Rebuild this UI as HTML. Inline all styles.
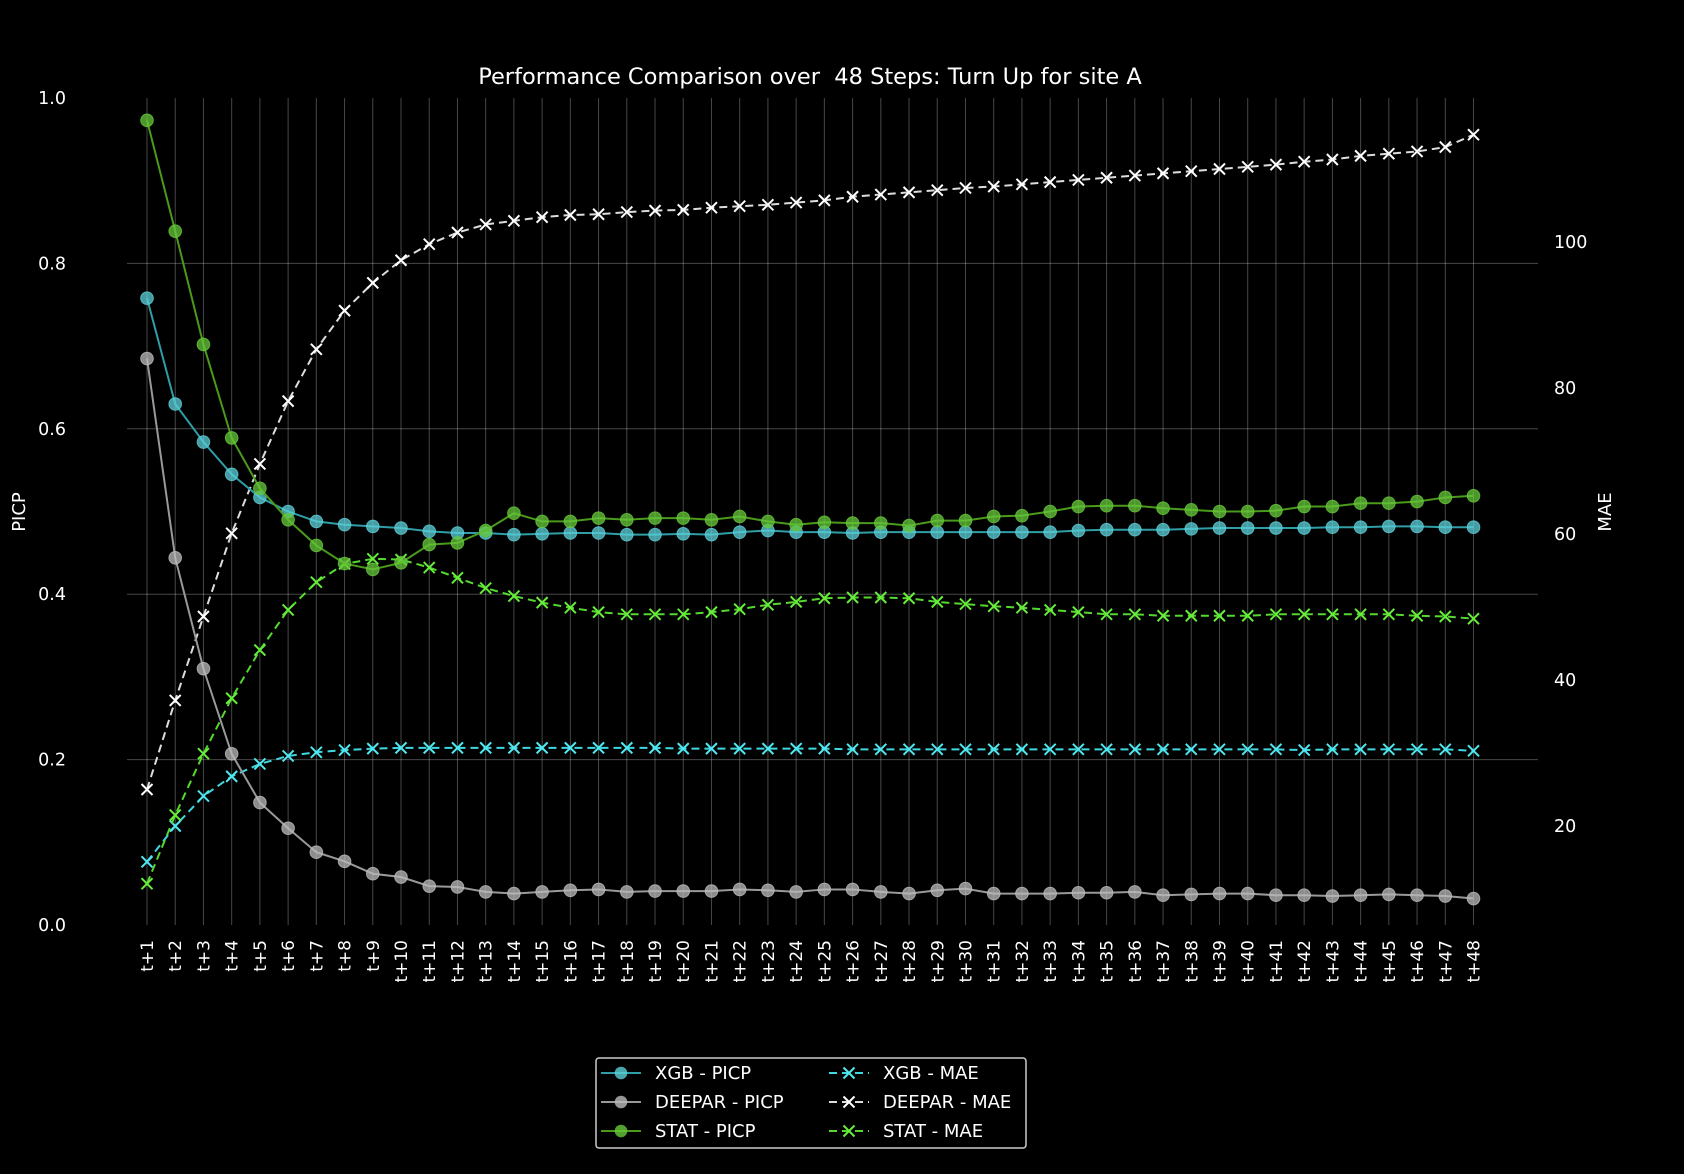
<!DOCTYPE html>
<html><head><meta charset="utf-8"><style>
html,body{margin:0;padding:0;background:#000;}
svg{display:block;font-family:"DejaVu Sans","Liberation Sans",sans-serif;}
</style></head><body>
<svg id="chart" width="1684" height="1174" viewBox="0 0 1684 1174" xmlns="http://www.w3.org/2000/svg">
<rect width="1684" height="1174" fill="#000"/>
<text x="810" y="84" fill="#fff" font-size="22.5" text-anchor="middle" xml:space="preserve" style="white-space:pre">Performance Comparison over  48 Steps: Turn Up for site A</text>
<g id="grid"></g>
<g id="axes"></g>
<g id="series"></g>
<text transform="translate(25,512) rotate(-90)" fill="#fff" font-size="18" text-anchor="middle">PICP</text>
<text transform="translate(1611,512) rotate(-90)" fill="#fff" font-size="18" text-anchor="middle">MAE</text>
<g id="legend"></g>
</svg>
<script>
const steps = Array.from({length:48},(_,i)=>'t+'+(i+1));
const picpTicks = [0.0,0.2,0.4,0.6,0.8,1.0];
const maeTicks = [20,40,60,80,100];
const xgbPicp = [0.758,0.63,0.584,0.545,0.517,0.5,0.488,0.484,0.482,0.48,0.476,0.474,0.474,0.472,0.473,0.474,0.474,0.472,0.472,0.473,0.472,0.475,0.477,0.475,0.475,0.474,0.475,0.475,0.475,0.475,0.475,0.475,0.475,0.477,0.478,0.478,0.478,0.479,0.48,0.48,0.48,0.48,0.481,0.481,0.482,0.482,0.481,0.481];
const deeparPicp = [0.685,0.444,0.31,0.207,0.148,0.117,0.088,0.077,0.062,0.058,0.047,0.046,0.04,0.038,0.04,0.042,0.043,0.04,0.041,0.041,0.041,0.043,0.042,0.04,0.043,0.043,0.04,0.038,0.042,0.044,0.038,0.038,0.038,0.039,0.039,0.04,0.036,0.037,0.038,0.038,0.036,0.036,0.035,0.036,0.037,0.036,0.035,0.032];
const statPicp = [0.973,0.839,0.702,0.589,0.528,0.49,0.459,0.437,0.43,0.438,0.46,0.462,0.477,0.498,0.488,0.488,0.492,0.49,0.492,0.492,0.49,0.494,0.488,0.484,0.487,0.486,0.486,0.483,0.489,0.489,0.494,0.495,0.5,0.506,0.507,0.507,0.504,0.502,0.5,0.5,0.501,0.506,0.506,0.51,0.51,0.512,0.517,0.519];
const xgbMae = [15.1,20,24.1,26.8,28.5,29.6,30.1,30.4,30.6,30.7,30.7,30.7,30.7,30.7,30.7,30.7,30.7,30.7,30.7,30.6,30.6,30.6,30.6,30.6,30.6,30.5,30.5,30.5,30.5,30.5,30.5,30.5,30.5,30.5,30.5,30.5,30.5,30.5,30.5,30.5,30.5,30.4,30.5,30.5,30.5,30.5,30.5,30.3];
const deeparMae = [25,37.2,48.7,60.1,69.6,78.2,85.3,90.6,94.4,97.5,99.7,101.3,102.4,102.9,103.4,103.7,103.8,104.1,104.3,104.4,104.7,104.9,105.1,105.4,105.7,106.2,106.5,106.8,107.1,107.4,107.6,107.9,108.2,108.5,108.8,109.1,109.4,109.7,110,110.3,110.6,111,111.3,111.8,112.1,112.4,113,114.7];
const statMae = [12.1,21.5,29.9,37.5,44.1,49.6,53.4,55.9,56.6,56.5,55.4,54,52.6,51.5,50.6,49.9,49.3,49,49,49,49.3,49.7,50.3,50.7,51.2,51.3,51.3,51.2,50.7,50.4,50.1,49.9,49.6,49.3,49,49,48.8,48.8,48.8,48.8,49,49,49,49,49,48.8,48.7,48.4];

const NS='http://www.w3.org/2000/svg';
const PL=127, PR=1538, PT=98, PB=925;
const x = i => 147 + i*(1473.5-147)/47;
const yL = v => 925 - v*827;
const yR = v => 826 - (v-20)*7.3;
function mk(tag, attrs, parent){const e=document.createElementNS(NS,tag);for(const k in attrs)e.setAttribute(k,attrs[k]);parent.appendChild(e);return e;}
const grid=document.getElementById('grid'), axes=document.getElementById('axes'), ser=document.getElementById('series'), leg=document.getElementById('legend');

steps.forEach((s,i)=>{
  const l=mk('line',{x1:x(i),x2:x(i),y1:PT,y2:PB,stroke:'#fff','stroke-opacity':0.28,'stroke-width':1},grid);
  
  
  const t=mk('text',{transform:`translate(${x(i)+6},940) rotate(-90)`,fill:'#fff','font-size':17,'text-anchor':'end'},axes);
  t.textContent=s;
  
  
});
picpTicks.forEach(v=>{
  if(v>0&&v<1){const l=mk('line',{x1:PL,x2:PR,y1:yL(v),y2:yL(v),stroke:'#fff','stroke-opacity':0.28,'stroke-width':1},grid);
  
  }
  const t=mk('text',{x:66,y:yL(v)+6,fill:'#fff','font-size':17.5,'text-anchor':'end'},axes);
  t.textContent=v.toFixed(1);
  
  
});
maeTicks.forEach(v=>{
  const t=mk('text',{x:1554,y:yR(v)+6,fill:'#fff','font-size':17.5},axes);
  t.textContent=v;
  
  
});

function cross(g,cx,cy,col,r){mk('path',{d:`M${cx-r},${cy-r}L${cx+r},${cy+r}M${cx-r},${cy+r}L${cx+r},${cy-r}`,stroke:col,'stroke-width':2},g);}
function drawLine(name,data,yf,lineCol,mkCol,kind){
  const g=mk('g',{},ser);
  
  
  const pts=data.map((v,i)=>x(i)+','+yf(v)).join(' ');
  const a={points:pts,fill:'none',stroke:lineCol,'stroke-width':2};
  if(kind==='x'){a['stroke-dasharray']='8,5';}
  mk('polyline',a,g);
  data.forEach((v,i)=>{
    if(kind==='o'){const c=mk('circle',{cx:x(i),cy:yf(v),r:6.3,fill:mkCol,'fill-opacity':0.75,stroke:mkCol,'stroke-opacity':0.8},g);
      
      }
    else cross(g,x(i),yf(v),mkCol,5.5);
  });
}
drawLine('deepar-mae',deeparMae,yR,'#dddddd','#ffffff','x');
drawLine('xgb-mae',xgbMae,yR,'#3fd8e0','#4fe8f0','x');
drawLine('stat-mae',statMae,yR,'#55d830','#66ee3a','x');
drawLine('deepar-picp',deeparPicp,yL,'#999999','#bbbbbb','o');
drawLine('xgb-picp',xgbPicp,yL,'#2f9ea6','#5cd0d8','o');
drawLine('stat-picp',statPicp,yL,'#4a9a1c','#66c83a','o');

mk('rect',{x:596,y:1058,width:430,height:90,rx:3,fill:'#000',stroke:'#ccc','stroke-width':1.5},leg);
const legItems=[['XGB - PICP','#2f9ea6','#5cd0d8','o',0,0],['DEEPAR - PICP','#999','#bbb','o',0,1],['STAT - PICP','#4a9a1c','#66c83a','o',0,2],
['XGB - MAE','#3fd8e0','#4fe8f0','x',1,0],['DEEPAR - MAE','#ddd','#fff','x',1,1],['STAT - MAE','#55d830','#66ee3a','x',1,2]];
legItems.forEach(([lab,lc,mc,k,col,row])=>{
  const g=mk('g',{},leg);
  
  
  const lx=col?829:601, ly=1073+row*29;
  const a={x1:lx,x2:lx+40,y1:ly,y2:ly,stroke:lc,'stroke-width':2};
  if(k==='x')a['stroke-dasharray']='8,5';
  mk('line',a,g);
  if(k==='o')mk('circle',{cx:lx+20,cy:ly,r:6.3,fill:mc,'fill-opacity':0.8},g);
  else cross(g,lx+20,ly,mc,5.5);
  const t=mk('text',{x:col?883:655,y:ly+6,fill:'#fff','font-size':18},g);
  t.textContent=lab;
});
</script>
</body></html>
